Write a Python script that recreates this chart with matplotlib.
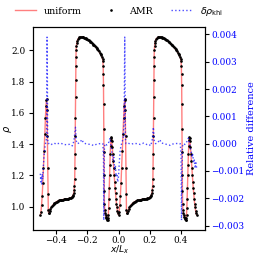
import matplotlib
matplotlib.use("Agg")
import matplotlib.pyplot as plt

# ---------------- data ----------------
x_cells = [
    -0.500, -0.496, -0.492, -0.488, -0.484, -0.480, -0.476, -0.472, -0.468, -0.464,
    -0.461, -0.459, -0.457, -0.455, -0.453, -0.451, -0.449, -0.447, -0.444, -0.440,
    -0.435, -0.430, -0.425, -0.420, -0.415, -0.410, -0.405, -0.400, -0.395, -0.390,
    -0.385, -0.380, -0.375, -0.370, -0.365, -0.360, -0.355, -0.350, -0.345, -0.340,
    -0.335, -0.330, -0.325, -0.320, -0.315, -0.310, -0.305, -0.300, -0.296, -0.292,
    -0.289, -0.286, -0.284, -0.282, -0.280, -0.279, -0.278, -0.277, -0.276, -0.275,
    -0.274, -0.273, -0.272, -0.271, -0.269, -0.267, -0.264, -0.260, -0.255, -0.250,
    -0.245, -0.240, -0.235, -0.230, -0.225, -0.220, -0.215, -0.210, -0.205, -0.200,
    -0.195, -0.190, -0.185, -0.180, -0.175, -0.170, -0.165, -0.160, -0.155, -0.150,
    -0.145, -0.140, -0.135, -0.130, -0.125, -0.120, -0.115, -0.110, -0.106, -0.102,
    -0.100, -0.098, -0.097, -0.096, -0.095, -0.094, -0.093, -0.092, -0.091, -0.090,
    -0.088, -0.086, -0.083, -0.080, -0.077, -0.074, -0.071, -0.069, -0.067, -0.065,
    -0.063, -0.061, -0.059, -0.057, -0.055, -0.053, -0.051, -0.049, -0.047, -0.045,
    -0.043, -0.040, -0.037, -0.034, -0.031, -0.028, -0.025, -0.022, -0.019, -0.016,
    -0.013, -0.010, -0.007, -0.004,
    0.000, 0.004, 0.008, 0.012, 0.016, 0.020, 0.024, 0.028, 0.032, 0.036,
    0.039, 0.041, 0.043, 0.045, 0.047, 0.049, 0.051, 0.053, 0.056, 0.060,
    0.065, 0.070, 0.075, 0.080, 0.085, 0.090, 0.095, 0.100, 0.105, 0.110,
    0.115, 0.120, 0.125, 0.130, 0.135, 0.140, 0.145, 0.150, 0.155, 0.160,
    0.165, 0.170, 0.175, 0.180, 0.185, 0.190, 0.195, 0.200, 0.204, 0.208,
    0.211, 0.214, 0.216, 0.218, 0.220, 0.221, 0.222, 0.223, 0.224, 0.225,
    0.226, 0.227, 0.228, 0.229, 0.231, 0.233, 0.236, 0.240, 0.245, 0.250,
    0.255, 0.260, 0.265, 0.270, 0.275, 0.280, 0.285, 0.290, 0.295, 0.300,
    0.305, 0.310, 0.315, 0.320, 0.325, 0.330, 0.335, 0.340, 0.345, 0.350,
    0.355, 0.360, 0.365, 0.370, 0.375, 0.380, 0.385, 0.390, 0.394, 0.398,
    0.400, 0.402, 0.403, 0.404, 0.405, 0.406, 0.407, 0.408, 0.409, 0.410,
    0.412, 0.414, 0.417, 0.420, 0.423, 0.426, 0.429, 0.431, 0.433, 0.435,
    0.437, 0.439, 0.441, 0.443, 0.445, 0.447, 0.449, 0.451, 0.453, 0.455,
    0.457, 0.460, 0.463, 0.466, 0.469, 0.472, 0.475, 0.478, 0.481, 0.484,
    0.487, 0.490, 0.493, 0.496,
    0.500,
]

rho_uniform = [
    0.947, 0.965, 1.01, 1.07, 1.15, 1.25, 1.355, 1.465, 1.565, 1.645,
    1.68, 1.69, 1.62, 1.45, 1.25, 1.08, 0.98, 0.958, 0.962, 0.972,
    0.984, 0.995, 1.003, 1.010, 1.016, 1.022, 1.026, 1.030, 1.033, 1.036,
    1.038, 1.040, 1.042, 1.043, 1.044, 1.045, 1.046, 1.047, 1.047, 1.048,
    1.049, 1.050, 1.051, 1.052, 1.053, 1.055, 1.057, 1.060, 1.064, 1.070,
    1.078, 1.090, 1.105, 1.13, 1.18, 1.25, 1.34, 1.45, 1.57, 1.70,
    1.81, 1.90, 1.96, 2.00, 2.03, 2.045, 2.06, 2.072, 2.078, 2.083,
    2.085, 2.086, 2.086, 2.085, 2.084, 2.082, 2.080, 2.077, 2.074, 2.071,
    2.068, 2.064, 2.060, 2.056, 2.052, 2.047, 2.042, 2.037, 2.032, 2.026,
    2.020, 2.014, 2.008, 2.001, 1.994, 1.986, 1.978, 1.968, 1.958, 1.945,
    1.93, 1.90, 1.85, 1.78, 1.66, 1.50, 1.35, 1.20, 1.10, 1.02,
    0.98, 0.96, 0.945, 0.935, 0.926, 0.92, 0.917, 0.918, 0.93, 0.95,
    0.99, 1.05, 1.12, 1.20, 1.27, 1.34, 1.39, 1.43, 1.443, 1.44,
    1.42, 1.385, 1.34, 1.29, 1.245, 1.20, 1.16, 1.12, 1.085, 1.05,
    1.02, 0.995, 0.975, 0.96,
    0.947, 0.965, 1.01, 1.07, 1.15, 1.25, 1.355, 1.465, 1.565, 1.645,
    1.68, 1.69, 1.62, 1.45, 1.25, 1.08, 0.98, 0.958, 0.962, 0.972,
    0.984, 0.995, 1.003, 1.010, 1.016, 1.022, 1.026, 1.030, 1.033, 1.036,
    1.038, 1.040, 1.042, 1.043, 1.044, 1.045, 1.046, 1.047, 1.047, 1.048,
    1.049, 1.050, 1.051, 1.052, 1.053, 1.055, 1.057, 1.060, 1.064, 1.070,
    1.078, 1.090, 1.105, 1.13, 1.18, 1.25, 1.34, 1.45, 1.57, 1.70,
    1.81, 1.90, 1.96, 2.00, 2.03, 2.045, 2.06, 2.072, 2.078, 2.083,
    2.085, 2.086, 2.086, 2.085, 2.084, 2.082, 2.080, 2.077, 2.074, 2.071,
    2.068, 2.064, 2.060, 2.056, 2.052, 2.047, 2.042, 2.037, 2.032, 2.026,
    2.020, 2.014, 2.008, 2.001, 1.994, 1.986, 1.978, 1.968, 1.958, 1.945,
    1.93, 1.90, 1.85, 1.78, 1.66, 1.50, 1.35, 1.20, 1.10, 1.02,
    0.98, 0.96, 0.945, 0.935, 0.926, 0.92, 0.917, 0.918, 0.93, 0.95,
    0.99, 1.05, 1.12, 1.20, 1.27, 1.34, 1.39, 1.43, 1.443, 1.44,
    1.42, 1.385, 1.34, 1.29, 1.245, 1.20, 1.16, 1.12, 1.085, 1.05,
    1.02, 0.995, 0.975, 0.96,
    0.947,
]

# the AMR run coincides with the uniform run at this resolution
rho_amr = rho_uniform

x_diff = [
    -0.500, -0.497, -0.494, -0.491, -0.488, -0.485, -0.481, -0.477, -0.472, -0.467,
    -0.462, -0.459, -0.457, -0.455, -0.453, -0.450, -0.440, -0.430, -0.420, -0.410,
    -0.400, -0.390, -0.370, -0.350, -0.330, -0.310, -0.295, -0.285, -0.275, -0.270,
    -0.263, -0.250, -0.233, -0.225, -0.210, -0.190, -0.170, -0.160, -0.140, -0.120,
    -0.100, -0.096, -0.094, -0.092, -0.090, -0.085, -0.075, -0.065, -0.055, -0.050,
    -0.045, -0.040, -0.035, -0.030, -0.025, -0.020, -0.015, -0.010, -0.005, 0.000,
    0.005, 0.010, 0.015, 0.020, 0.030, 0.036, 0.040, 0.042, 0.044, 0.048,
    0.060, 0.080, 0.100, 0.120, 0.140, 0.160, 0.180, 0.195, 0.205, 0.215,
    0.223, 0.229, 0.237, 0.250, 0.265, 0.273, 0.290, 0.310, 0.330, 0.340,
    0.360, 0.380, 0.395, 0.400, 0.403, 0.406, 0.409, 0.415, 0.425, 0.440,
    0.447, 0.455, 0.460, 0.465, 0.470, 0.475, 0.480, 0.485, 0.490, 0.495,
    0.500,
]

rel_diff = [
    -0.0011, -0.0014, -0.0012, -0.0015, -0.0011, -0.0013, -0.0009, -0.0005, -0.0002, 0.0000,
    0.0001, 0.0008, 0.0039, 0.0025, 0.0002, 0.0000, 0.00002, -0.00003, 0.0, 0.00002,
    -0.00002, 0.0, 0.00002, -0.00003, -0.00004, -0.00002, -0.00008, 0.0001, 0.0006, 0.0001,
    0.0, 0.00003, 0.00015, 0.00003, 0.0, -0.00002, -0.00004, -0.00007, -0.00002, 0.0,
    0.0, -0.0005, -0.0028, -0.0012, -0.0001, 0.0, -0.00005, 0.0, 0.0002, 0.0,
    -0.0002, -0.0004, -0.0006, -0.0005, -0.0009, -0.0008, -0.0012, -0.0011, -0.0014, -0.0012,
    -0.0007, -0.0003, -0.0001, 0.0, 0.0002, 0.0008, 0.0039, 0.0020, 0.0002, 0.0,
    0.00002, -0.00002, 0.00001, 0.0, -0.00003, 0.00002, -0.00003, -0.00002, -0.00008, 0.0001,
    0.0006, 0.0001, 0.0, 0.00003, 0.00015, 0.00003, 0.0, -0.00003, -0.00006, -0.00002,
    0.0, 0.00001, 0.0, -0.0004, -0.0028, -0.0010, -0.0001, 0.0, -0.00003, 0.0001,
    0.0002, 0.0000, -0.0002, -0.0003, -0.0005, -0.0004, -0.0007, -0.0006, -0.0009, -0.0007,
    -0.0009,
]

rho_ticks = [1.0, 1.2, 1.4, 1.6, 1.8, 2.0]
x_ticks = [-0.4, -0.2, 0.0, 0.2, 0.4]
diff_ticks = [-0.003, -0.002, -0.001, 0.000, 0.001, 0.002, 0.003, 0.004]

# ---------------- figure ----------------
plt.rcParams["font.family"] = ["DejaVu Serif"]
plt.rcParams["mathtext.fontset"] = "dejavusans"
fs = 6.4

W, H = 258, 257
fig = plt.figure(figsize=(W / 100, H / 100), dpi=100)
left, right, top, bottom = 32.5, 204.5, 27, 230
aw, ah = right - left, bottom - top
ax = fig.add_axes([left / W, 1 - bottom / H, aw / W, ah / H])

l1, = ax.plot(x_cells, rho_uniform, color="red", alpha=0.5, lw=1.0, label="uniform")
l2, = ax.plot(x_cells, rho_amr, color="black", ls="none", marker=".", ms=1.8,
              mec="black", mfc="black", label="AMR")
ax.set_xlim(-0.55, 0.55)
ax.set_ylim(0.851, 2.150)
ax.set_xticks(x_ticks)
ax.set_yticks(rho_ticks)
ax.set_xticklabels([f"{t:.1f}".replace("-", "\u2212") for t in x_ticks])
ax.set_yticklabels([f"{t:.1f}" for t in rho_ticks])
ax.tick_params(labelsize=fs, length=3, width=0.8, pad=2)
ax.tick_params(axis="x", pad=1.0)
ax.set_xlabel(r"$x/L_x$", fontsize=fs + 0.3)
ax.xaxis.set_label_coords((120 - left) / aw, (bottom - 243.8) / ah)
ax.set_ylabel(r"$\rho$", fontsize=fs + 0.6)
ax.yaxis.set_label_coords((14.5 - left) / aw, 0.5)

ax2 = ax.twinx()
l3, = ax2.plot(x_diff, rel_diff, color="blue", ls=":", lw=1.0, alpha=0.7,
               label=r"$\delta\rho_{\rm khi}$")
ax2.set_ylim(-0.00316, 0.00427)
ax2.set_yticks(diff_ticks)
ax2.set_yticklabels([f"{t:.3f}".replace("-", "\u2212") for t in diff_ticks])
ax2.tick_params(axis="y", labelsize=fs, labelcolor="blue", length=3, width=0.8, pad=2)
ax2.set_ylabel("Relative difference", color="blue", fontsize=fs + 0.6, labelpad=2)

fig.legend([l1, l2, l3], ["uniform", "AMR", r"$\delta\rho_{\rm khi}$"],
           loc="center", bbox_to_anchor=(119 / W, 1 - 11 / H), ncol=3,
           frameon=False, fontsize=fs + 0.4, handlelength=2.2,
           columnspacing=2.0, handletextpad=0.8, borderpad=0.1)

fig.savefig("out.png", dpi=100)
